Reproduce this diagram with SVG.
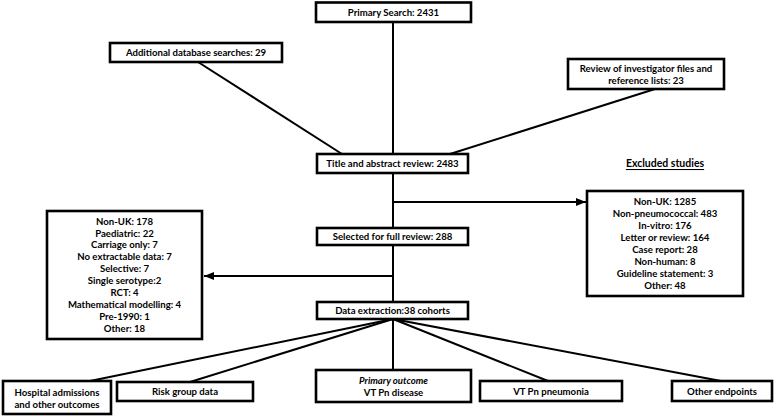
<svg xmlns="http://www.w3.org/2000/svg" width="778" height="416" viewBox="0 0 778 416">
<style>
.b{fill:#fff;stroke:#000;stroke-width:2.6}
text{font-family:Lato,"Liberation Sans",sans-serif;font-weight:bold;font-size:9.6px;fill:#000;text-anchor:middle;dominant-baseline:central}
.c{stroke:#000;stroke-width:2;fill:none}
.i{font-style:italic}
.u{text-decoration:underline;font-size:10.5px}
</style>
<defs>
<marker id="ah" viewBox="0 0 10 10" refX="10" refY="5" markerWidth="5" markerHeight="5" orient="auto" markerUnits="strokeWidth"><path d="M0,1 L10,5 L0,9 z" fill="#000"/></marker>
</defs>
<g id="connectors">
<line class="c" x1="393" y1="22" x2="393" y2="154"/>
<line class="c" x1="198" y1="62" x2="342" y2="154"/>
<line class="c" x1="655" y1="89" x2="450" y2="154"/>
<line class="c" x1="393" y1="173" x2="393" y2="228"/>
<line class="c" x1="393" y1="202" x2="586" y2="202" marker-end="url(#ah)"/>
<line class="c" x1="393" y1="245" x2="393" y2="302"/>
<line class="c" x1="393" y1="276" x2="204" y2="276" marker-end="url(#ah)"/>
<line class="c" x1="393" y1="319" x2="90" y2="381"/>
<line class="c" x1="393" y1="319" x2="190" y2="382"/>
<line class="c" x1="393" y1="319" x2="393" y2="370"/>
<line class="c" x1="393" y1="319" x2="548" y2="381"/>
<line class="c" x1="393" y1="319" x2="721" y2="381"/>
</g>
<g id="primary"><rect class="b" x="316" y="2.5" width="155" height="19.5"/><text x="393.5" y="12.5">Primary Search: 2431</text></g>
<g id="additional"><rect class="b" x="110" y="43" width="172" height="19"/><text x="196" y="52.5">Additional database searches: 29</text></g>
<g id="review"><rect class="b" x="568" y="59" width="156" height="30"/><text x="646" y="68.5">Review of investigator files and</text><text x="646" y="80.5">reference lists: 23</text></g>
<g id="title"><rect class="b" x="317" y="154" width="151" height="19"/><text x="392.5" y="163.5">Title and abstract review:  2483</text></g>
<text class="u" x="665" y="163">Excluded studies</text>
<g id="excluded"><rect class="b" x="587" y="191" width="156" height="105"/>
<text x="665" y="201">Non-UK:  1285</text>
<text x="665" y="213">Non-pneumococcal:  483</text>
<text x="665" y="225">In-vitro: 176</text>
<text x="665" y="237">Letter or review: 164</text>
<text x="665" y="249">Case report:  28</text>
<text x="665" y="261">Non-human:  8</text>
<text x="665" y="273">Guideline statement: 3</text>
<text x="665" y="285">Other: 48</text>
</g>
<g id="selected"><rect class="b" x="317" y="228" width="151" height="17"/><text x="392.5" y="236.5">Selected for full review:  288</text></g>
<g id="excluded2"><rect class="b" x="47" y="211" width="155" height="128"/>
<text x="124.5" y="221">Non-UK: 178</text>
<text x="124.5" y="233">Paediatric: 22</text>
<text x="124.5" y="244.5">Carriage only: 7</text>
<text x="124.5" y="256.5">No extractable data: 7</text>
<text x="124.5" y="268.5">Selective: 7</text>
<text x="124.5" y="280.5">Single serotype:2</text>
<text x="124.5" y="292.5">RCT: 4</text>
<text x="124.5" y="304.5">Mathematical modelling: 4</text>
<text x="124.5" y="316.5">Pre-1990: 1</text>
<text x="124.5" y="328">Other: 18</text>
</g>
<g id="extraction"><rect class="b" x="317" y="302" width="151" height="17"/><text x="392.5" y="310.5">Data extraction:38  cohorts</text></g>
<g id="hospital"><rect class="b" x="3" y="381" width="108" height="33"/><text x="57" y="392">Hospital admissions</text><text x="57" y="404">and other outcomes</text></g>
<g id="risk"><rect class="b" x="117" y="382" width="136" height="19"/><text x="185" y="391.5">Risk group data</text></g>
<g id="primaryoutcome"><rect class="b" x="316" y="370" width="155" height="32"/><text class="i" x="393.5" y="380.5">Primary outcome</text><text x="393.5" y="392">VT Pn disease</text></g>
<g id="pneumonia"><rect class="b" x="480" y="381" width="142" height="20"/><text x="551" y="391">VT Pn pneumonia</text></g>
<g id="other"><rect class="b" x="672" y="381" width="100" height="20"/><text x="722" y="391">Other endpoints</text></g>
</svg>
